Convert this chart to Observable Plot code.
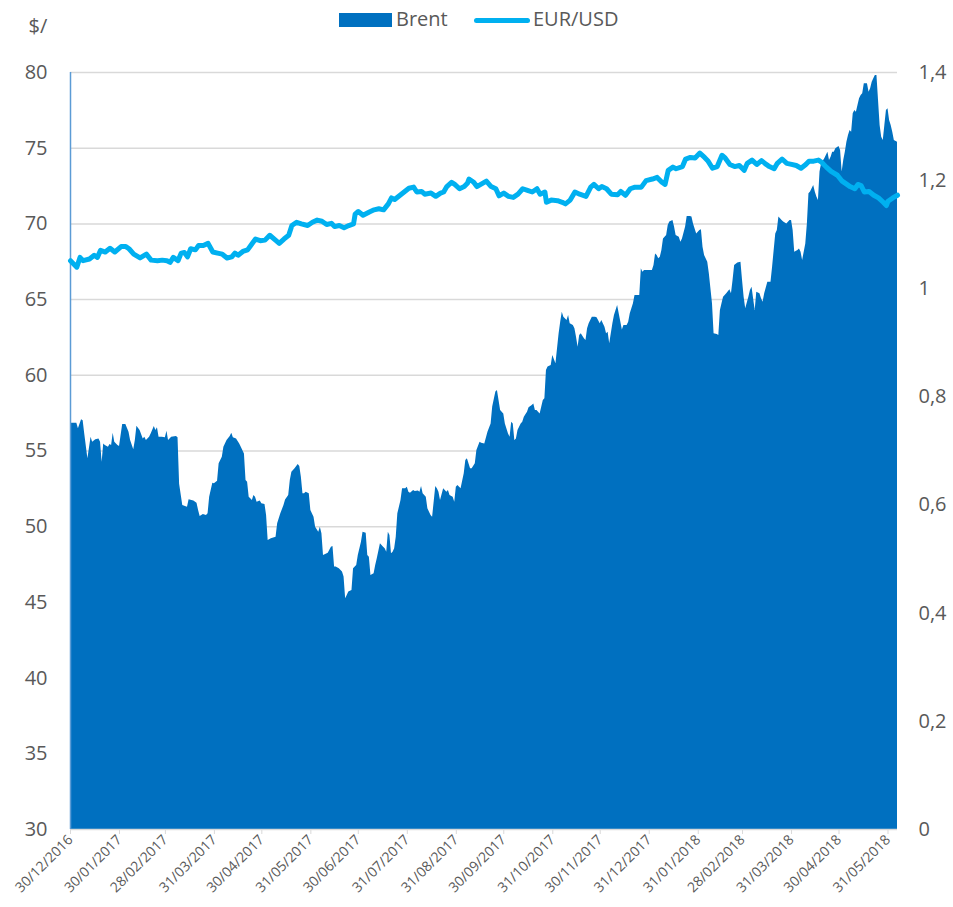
<!DOCTYPE html>
<html>
<head>
<meta charset="utf-8">
<script src="https://cdn.jsdelivr.net/npm/d3@7"></script>
<script src="https://cdn.jsdelivr.net/npm/@observablehq/plot@0.6"></script>
<style>
  body { margin: 0; background: #fff; font-family: "Open Sans", sans-serif; }
  #wrap { position: relative; width: 953px; height: 907px; }
  #legend { position: absolute; left: 0; top: 0; width: 953px; height: 40px; color: #595959; font-size: 20px; }
  #legend div { position: absolute; }
</style>
</head>
<body>
<div id="wrap">
  <div id="chart"></div>
  <div id="legend">
    <div style="left:339px;top:13px;width:53px;height:14px;background:#0070C0"></div>
    <div style="left:396px;top:5px;line-height:28px">Brent</div>
    <div style="left:474px;top:18px;width:56px;height:5px;border-radius:3px;background:#00B0F0"></div>
    <div style="left:533px;top:5px;line-height:28px">EUR/USD</div>
  </div>
</div>
<script>
// ---------- data ----------
const brentDates = [
"2016-12-30","2017-01-03","2017-01-04","2017-01-06","2017-01-07","2017-01-08","2017-01-10","2017-01-12","2017-01-13","2017-01-15",
"2017-01-17","2017-01-18","2017-01-19","2017-01-20","2017-01-21","2017-01-23","2017-01-24","2017-01-25","2017-01-26","2017-01-27",
"2017-01-29","2017-01-30","2017-02-01","2017-02-03","2017-02-05","2017-02-06","2017-02-08","2017-02-09","2017-02-10","2017-02-12",
"2017-02-14","2017-02-15","2017-02-16","2017-02-18","2017-02-19","2017-02-21","2017-02-22","2017-02-23","2017-02-24","2017-02-26",
"2017-02-28","2017-03-01","2017-03-02","2017-03-04","2017-03-07","2017-03-08","2017-03-09","2017-03-11","2017-03-14","2017-03-15",
"2017-03-18","2017-03-20","2017-03-21","2017-03-22","2017-03-24","2017-03-26","2017-03-27","2017-03-28","2017-03-30","2017-03-31",
"2017-04-02","2017-04-03","2017-04-05","2017-04-06","2017-04-08","2017-04-10","2017-04-11","2017-04-12","2017-04-14","2017-04-16",
"2017-04-17","2017-04-19","2017-04-20","2017-04-21","2017-04-22","2017-04-23","2017-04-24","2017-04-25","2017-04-26","2017-04-27",
"2017-04-29","2017-04-30","2017-05-02","2017-05-03","2017-05-04","2017-05-06","2017-05-09","2017-05-10","2017-05-12","2017-05-14",
"2017-05-15","2017-05-17","2017-05-18","2017-05-19","2017-05-21","2017-05-23","2017-05-24","2017-05-25","2017-05-26","2017-05-27",
"2017-05-28","2017-05-30","2017-05-31","2017-06-02","2017-06-03","2017-06-05","2017-06-06","2017-06-07","2017-06-08","2017-06-10",
"2017-06-11","2017-06-13","2017-06-14","2017-06-15","2017-06-16","2017-06-18","2017-06-20","2017-06-21","2017-06-22","2017-06-23",
"2017-06-24","2017-06-26","2017-06-27","2017-06-29","2017-06-30","2017-07-02","2017-07-03","2017-07-05","2017-07-06","2017-07-07",
"2017-07-08","2017-07-10","2017-07-11","2017-07-12","2017-07-14","2017-07-16","2017-07-17","2017-07-18","2017-07-19","2017-07-20",
"2017-07-21","2017-07-22","2017-07-23","2017-07-24","2017-07-25","2017-07-27","2017-07-28","2017-07-30","2017-07-31","2017-08-01",
"2017-08-02","2017-08-04","2017-08-05","2017-08-07","2017-08-08","2017-08-09","2017-08-10","2017-08-12","2017-08-13","2017-08-15",
"2017-08-16","2017-08-18","2017-08-19","2017-08-20","2017-08-21","2017-08-23","2017-08-25","2017-08-26","2017-08-27","2017-08-29",
"2017-08-30","2017-08-31","2017-09-01","2017-09-03","2017-09-05","2017-09-06","2017-09-07","2017-09-09","2017-09-10","2017-09-12",
"2017-09-13","2017-09-15","2017-09-16","2017-09-18","2017-09-20","2017-09-22","2017-09-23","2017-09-25","2017-09-26","2017-09-27",
"2017-09-28","2017-09-30","2017-10-01","2017-10-03","2017-10-04","2017-10-05","2017-10-06","2017-10-07","2017-10-08","2017-10-09",
"2017-10-11","2017-10-12","2017-10-13","2017-10-15","2017-10-16","2017-10-18","2017-10-19","2017-10-20","2017-10-21","2017-10-23",
"2017-10-24","2017-10-25","2017-10-26","2017-10-27","2017-10-28","2017-10-30","2017-10-31","2017-11-02","2017-11-03","2017-11-04",
"2017-11-05","2017-11-06","2017-11-07","2017-11-09","2017-11-10","2017-11-11","2017-11-13","2017-11-14","2017-11-15","2017-11-16",
"2017-11-17","2017-11-18","2017-11-20","2017-11-21","2017-11-22","2017-11-23","2017-11-25","2017-11-27","2017-11-28","2017-11-30",
"2017-12-01","2017-12-03","2017-12-04","2017-12-05","2017-12-06","2017-12-08","2017-12-09","2017-12-11","2017-12-12","2017-12-14",
"2017-12-15","2017-12-17","2017-12-18","2017-12-19","2017-12-21","2017-12-22","2017-12-24","2017-12-25","2017-12-26","2017-12-27",
"2017-12-28","2017-12-31","2018-01-02","2018-01-03","2018-01-04","2018-01-05","2018-01-06","2018-01-07","2018-01-08","2018-01-09",
"2018-01-11","2018-01-12","2018-01-13","2018-01-15","2018-01-16","2018-01-17","2018-01-19","2018-01-20","2018-01-21","2018-01-23",
"2018-01-24","2018-01-26","2018-01-27","2018-01-28","2018-01-30","2018-02-01","2018-02-02","2018-02-03","2018-02-04","2018-02-06",
"2018-02-07","2018-02-09","2018-02-10","2018-02-12","2018-02-13","2018-02-14","2018-02-15","2018-02-16","2018-02-18","2018-02-20",
"2018-02-21","2018-02-22","2018-02-23","2018-02-25","2018-02-27","2018-02-28","2018-03-01","2018-03-02","2018-03-04","2018-03-05",
"2018-03-06","2018-03-08","2018-03-09","2018-03-11","2018-03-12","2018-03-13","2018-03-14","2018-03-16","2018-03-18","2018-03-19",
"2018-03-21","2018-03-22","2018-03-23","2018-03-25","2018-03-26","2018-03-28","2018-03-30","2018-03-31","2018-04-01","2018-04-02",
"2018-04-04","2018-04-05","2018-04-06","2018-04-07","2018-04-09","2018-04-10","2018-04-11","2018-04-12","2018-04-14","2018-04-15",
"2018-04-16","2018-04-17","2018-04-18","2018-04-19","2018-04-21","2018-04-22","2018-04-23","2018-04-24","2018-04-25","2018-04-26",
"2018-04-27","2018-04-28","2018-04-30","2018-05-01","2018-05-02","2018-05-03","2018-05-04","2018-05-05","2018-05-06","2018-05-07",
"2018-05-08","2018-05-09","2018-05-10","2018-05-11","2018-05-12","2018-05-13","2018-05-14","2018-05-15","2018-05-16","2018-05-18",
"2018-05-19","2018-05-20","2018-05-21","2018-05-22","2018-05-23","2018-05-24","2018-05-25","2018-05-26","2018-05-27","2018-05-28",
"2018-05-29","2018-05-30","2018-05-31","2018-06-01","2018-06-02","2018-06-03","2018-06-04","2018-06-06"
];
const brentValues = [
56.84,56.84,56.47,57.06,57.0,56.13,54.48,55.9,55.58,55.74,
55.8,55.58,54.26,55.47,55.36,55.25,55.43,55.36,56.18,55.58,
55.36,55.3,56.75,56.75,56.24,55.69,55.08,55.69,56.64,56.35,
55.8,55.91,55.69,55.91,56.13,56.62,56.35,56.53,55.91,55.91,
55.87,56.31,55.69,55.91,55.96,55.87,52.8,51.4,51.29,51.78,
51.69,51.55,51.07,50.67,50.81,50.74,50.85,51.95,52.87,52.83,
53.01,54.15,54.59,55.25,55.69,55.96,56.18,55.87,55.8,55.47,
55.25,54.81,53.05,52.94,51.95,51.84,51.73,52.06,51.95,51.62,
51.69,51.51,51.47,50.74,49.09,49.2,49.31,50.19,50.85,51.4,
51.77,52.06,53.05,53.6,53.82,54.11,53.98,53.27,52.17,52.17,
52.28,52.17,51.07,50.63,49.97,49.64,49.97,49.53,48.1,48.2,
48.25,48.65,48.69,47.33,47.33,47.22,47.0,46.67,45.24,45.46,
45.68,45.79,47.22,47.44,48.1,48.98,49.64,49.57,48.1,47.99,
46.78,46.89,47.44,47.88,48.87,48.65,48.54,48.32,49.64,49.42,
48.21,48.32,48.54,49.31,50.85,51.73,52.5,52.5,52.61,52.28,
52.21,52.39,52.33,52.35,52.28,52.65,52.17,51.95,51.18,50.74,
50.63,52.65,52.5,52.28,51.73,52.5,52.28,52.39,52.06,51.95,
51.62,52.61,52.72,52.5,53.49,54.37,54.48,53.82,53.82,54.15,
55.03,55.58,55.52,55.47,56.24,56.79,57.9,58.89,59.0,58.34,
57.67,57.45,56.79,56.13,55.91,56.9,56.79,55.69,55.8,56.35,
56.79,56.9,57.23,57.56,57.85,58.0,58.11,57.67,57.67,57.45,
57.89,58.34,58.45,60.32,60.54,60.65,61.31,60.76,61.75,62.74,
63.51,64.17,63.84,63.62,63.95,63.4,63.29,63.07,62.52,61.86,
62.63,62.74,62.41,62.3,63.07,63.4,63.84,63.84,63.8,63.4,
63.62,63.18,62.74,62.85,62.08,63.4,63.95,64.61,64.06,63.0,
63.29,63.29,63.51,64.06,64.72,65.27,65.27,65.27,67.03,66.81,
66.92,66.92,66.92,67.25,68.02,67.91,67.69,67.8,68.24,69.01,
69.23,69.9,70.12,70.23,69.79,69.23,69.12,68.79,69.01,69.79,
70.49,70.49,70.45,70.0,69.34,69.56,69.61,68.46,67.91,67.47,
66.7,64.72,62.74,62.7,62.63,64.28,64.72,65.16,65.38,65.65,
65.38,66.26,67.25,67.41,67.47,66.26,65.16,64.39,65.16,65.6,
65.82,64.28,65.49,65.38,65.05,64.83,65.38,66.15,66.15,67.14,
69.34,69.56,70.45,70.23,70.12,70.0,70.23,70.23,69.56,68.13,
68.24,68.35,68.13,67.58,68.68,70.0,71.99,72.1,72.54,72.1,
71.77,71.55,73.42,73.97,74.3,74.52,74.74,74.19,74.41,74.74,
74.74,74.96,75.11,74.85,73.42,74.19,74.74,75.4,75.84,76.17,
76.06,77.27,77.49,77.38,77.82,78.26,78.48,78.59,79.25,79.25,
78.7,78.92,79.36,79.58,79.8,79.8,78.15,76.5,75.73,75.51,
76.5,77.49,77.6,76.83,76.5,76.06,75.51,75.4
];

const eurDates = [
"2016-12-30","2017-01-03","2017-01-05","2017-01-07","2017-01-11","2017-01-14","2017-01-16","2017-01-18","2017-01-21","2017-01-24",
"2017-01-27","2017-01-31","2017-02-03","2017-02-05","2017-02-08","2017-02-12","2017-02-16","2017-02-19","2017-02-23","2017-02-26",
"2017-03-01","2017-03-03","2017-03-05","2017-03-08","2017-03-10","2017-03-12","2017-03-14","2017-03-16","2017-03-19","2017-03-21",
"2017-03-24","2017-03-27","2017-03-30","2017-04-02","2017-04-05","2017-04-08","2017-04-11","2017-04-13","2017-04-15","2017-04-18",
"2017-04-21","2017-04-23","2017-04-26","2017-04-29","2017-05-02","2017-05-05","2017-05-09","2017-05-11","2017-05-14","2017-05-17",
"2017-05-19","2017-05-22","2017-05-25","2017-05-29","2017-06-01","2017-06-04","2017-06-07","2017-06-10","2017-06-13","2017-06-15",
"2017-06-18","2017-06-21","2017-06-24","2017-06-27","2017-06-28","2017-06-30","2017-07-03","2017-07-07","2017-07-10","2017-07-13",
"2017-07-16","2017-07-19","2017-07-21","2017-07-23","2017-07-26","2017-07-29","2017-08-01","2017-08-04","2017-08-06","2017-08-09",
"2017-08-11","2017-08-15","2017-08-18","2017-08-21","2017-08-23","2017-08-25","2017-08-28","2017-08-30","2017-09-02","2017-09-05",
"2017-09-07","2017-09-08","2017-09-11","2017-09-13","2017-09-16","2017-09-19","2017-09-22","2017-09-25","2017-09-27","2017-09-30",
"2017-10-03","2017-10-06","2017-10-09","2017-10-12","2017-10-15","2017-10-18","2017-10-21","2017-10-23","2017-10-26","2017-10-27",
"2017-10-30","2017-11-03","2017-11-06","2017-11-08","2017-11-11","2017-11-14","2017-11-17","2017-11-21","2017-11-24","2017-11-26",
"2017-11-29","2017-12-01","2017-12-04","2017-12-07","2017-12-11","2017-12-13","2017-12-16","2017-12-19","2017-12-22","2017-12-26",
"2017-12-29","2018-01-02","2018-01-05","2018-01-08","2018-01-10","2018-01-12","2018-01-15","2018-01-17","2018-01-21","2018-01-23",
"2018-01-26","2018-01-29","2018-02-01","2018-02-04","2018-02-06","2018-02-09","2018-02-12","2018-02-15","2018-02-17","2018-02-20",
"2018-02-23","2018-02-26","2018-03-01","2018-03-03","2018-03-06","2018-03-09","2018-03-12","2018-03-15","2018-03-17","2018-03-20",
"2018-03-22","2018-03-25","2018-03-28","2018-03-31","2018-04-03","2018-04-06","2018-04-09","2018-04-11","2018-04-14","2018-04-17",
"2018-04-19","2018-04-22","2018-04-25","2018-04-29","2018-05-02","2018-05-05","2018-05-07","2018-05-10","2018-05-12","2018-05-14",
"2018-05-16","2018-05-19","2018-05-22","2018-05-25","2018-05-28","2018-05-30","2018-05-31","2018-06-03","2018-06-06"
];
const eurValues = [
1.052,1.040,1.058,1.052,1.055,1.062,1.058,1.071,1.068,1.075,
1.068,1.078,1.078,1.074,1.064,1.057,1.064,1.053,1.052,1.053,
1.052,1.049,1.058,1.052,1.066,1.067,1.059,1.074,1.072,1.080,
1.080,1.084,1.068,1.066,1.064,1.057,1.059,1.066,1.062,1.069,
1.072,1.080,1.092,1.089,1.090,1.099,1.089,1.084,1.092,1.099,
1.117,1.123,1.120,1.117,1.123,1.127,1.125,1.119,1.121,1.115,
1.117,1.113,1.117,1.120,1.138,1.143,1.136,1.142,1.146,1.148,
1.146,1.157,1.168,1.165,1.172,1.179,1.186,1.188,1.179,1.180,
1.175,1.177,1.171,1.177,1.179,1.189,1.197,1.193,1.185,1.189,
1.195,1.203,1.197,1.189,1.194,1.199,1.189,1.185,1.172,1.177,
1.171,1.169,1.175,1.185,1.182,1.179,1.185,1.175,1.179,1.160,
1.164,1.163,1.160,1.157,1.164,1.179,1.175,1.171,1.188,1.193,
1.185,1.189,1.185,1.175,1.174,1.180,1.173,1.185,1.188,1.188,
1.200,1.203,1.206,1.197,1.193,1.219,1.225,1.222,1.226,1.240,
1.243,1.242,1.251,1.243,1.237,1.223,1.226,1.247,1.242,1.230,
1.226,1.228,1.219,1.232,1.238,1.230,1.237,1.230,1.226,1.222,
1.232,1.240,1.232,1.230,1.228,1.223,1.230,1.236,1.236,1.238,
1.234,1.225,1.217,1.210,1.199,1.193,1.189,1.185,1.193,1.191,
1.179,1.180,1.173,1.168,1.160,1.154,1.162,1.168,1.173
];

const xTickDates = [
"2016-12-30","2017-01-30","2017-02-28","2017-03-31","2017-04-30","2017-05-31","2017-06-30","2017-07-31","2017-08-31",
"2017-09-30","2017-10-31","2017-11-30","2017-12-31","2018-01-31","2018-02-28","2018-03-31","2018-04-30","2018-05-31"
];
const xDomain = ["2016-12-30", "2018-06-06"];
const leftTicks = [30, 35, 40, 45, 50, 55, 60, 65, 70, 75, 80];
const rightTicks = [0, 0.2, 0.4, 0.6, 0.8, 1, 1.2, 1.4];
const rightTickLabels = ["0", "0,2", "0,4", "0,6", "0,8", "1", "1,2", "1,4"];
const leftUnit = "$/";

// ---------- build ----------
const parse = d3.utcParse("%Y-%m-%d");
const brent = brentDates.map((d, i) => ({date: parse(d), value: brentValues[i]}));
const eur = eurDates.map((d, i) => ({date: parse(d), value: eurValues[i]}));
const leftMin = 30, leftMax = 80, rightMax = 1.4;
const toLeft = v => leftMin + v * (leftMax - leftMin) / rightMax;
const rightPos = rightTicks.map(toLeft);
const fmt = d3.utcFormat("%d/%m/%Y");

const chart = Plot.plot({
  width: 953,
  height: 907,
  marginLeft: 70,
  marginRight: 56,
  marginTop: 72,
  marginBottom: 78,
  style: {fontFamily: "'Open Sans', sans-serif", color: "#595959", background: "#fff", overflow: "visible"},
  x: {type: "utc", domain: xDomain.map(parse)},
  y: {domain: [leftMin, leftMax]},
  marks: [
    Plot.ruleY(leftTicks.filter(v => v > leftMin), {stroke: "#D9D9D9", strokeWidth: 1.5}),
    Plot.areaY(brent, {x: "date", y1: () => leftMin, y2: "value", fill: "#0070C0", curve: "linear"}),
    Plot.ruleY([leftMin], {stroke: "#D9D9D9", strokeWidth: 1.5}),
    Plot.ruleX([parse(xDomain[0])], {y1: leftMin, y2: leftMax, stroke: "#5B9BD5", strokeWidth: 1.5}),
    Plot.line(eur, {x: "date", y: d => toLeft(d.value), stroke: "#00B0F0", strokeWidth: 5,
      strokeLinejoin: "round", strokeLinecap: "round", curve: "linear"}),
    Plot.axisX(xTickDates.map(parse), {tickFormat: fmt, tickRotate: -45, tickSize: 5, tickPadding: 3,
      stroke: "#D9D9D9", fill: "#595959", fontSize: 14, label: null}),
    Plot.axisY(leftTicks, {anchor: "left", tickSize: 0, tickPadding: 23, fontSize: 20, fill: "#595959", label: null}),
    Plot.axisY(rightPos, {anchor: "right", tickSize: 0, tickPadding: 21, fontSize: 20, fill: "#595959",
      tickFormat: (d) => rightTickLabels[rightPos.findIndex(p => Math.abs(p - d) < 1e-6)], label: null}),
    Plot.text([leftUnit], {frameAnchor: "top-left", textAnchor: "start", lineAnchor: "middle",
      dx: -42, dy: -46, fontSize: 20, fill: "#595959"})
  ]
});
document.getElementById("chart").appendChild(chart);
</script>
</body>
</html>
